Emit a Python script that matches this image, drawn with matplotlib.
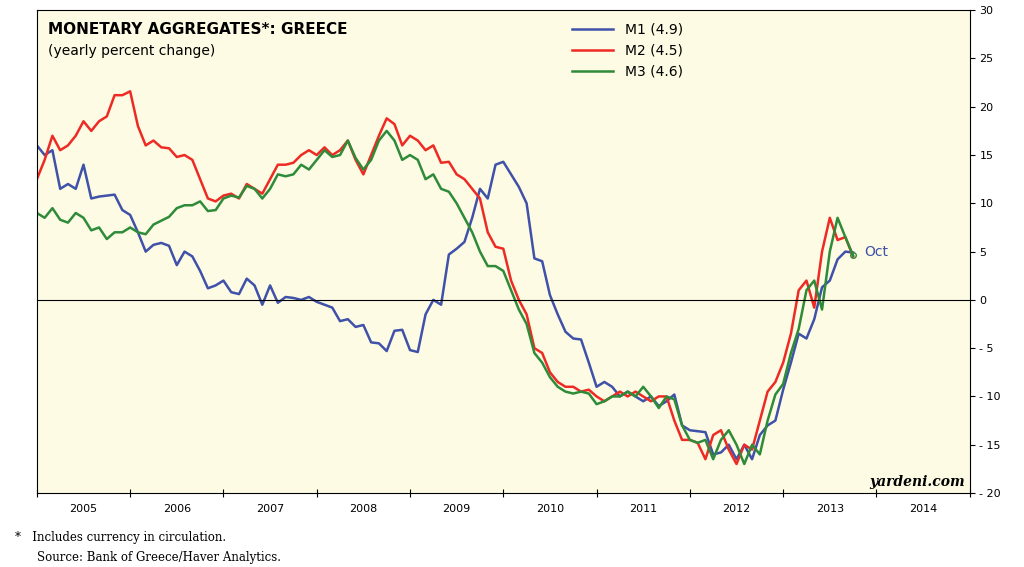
import matplotlib.pyplot as plt
import numpy as np

m1 = [16, 15, 15.5, 11.5, 12, 11.5, 14, 10.5, 10.7, 10.8, 10.9, 9.3,
      8.8, 7, 5, 5.7, 5.9, 5.6, 3.6, 5, 4.5, 3, 1.2, 1.5,
      2, 0.8, 0.6, 2.2, 1.5, -0.5, 1.5, -0.3, 0.3, 0.2, 0, 0.3,
      -0.2, -0.5, -0.8, -2.2, -2, -2.8, -2.6, -4.4, -4.5, -5.3, -3.2, -3.1,
      -5.2, -5.4, -1.5, 0, -0.5, 4.7, 5.3, 6, 8.5, 11.5, 10.5, 14,
      14.3, 13, 11.7, 10, 4.3, 4, 0.5, -1.5, -3.3, -4, -4.1, -6.5,
      -9, -8.5, -9, -10, -9.5, -10, -10.5, -10, -11, -10.5, -9.8, -13,
      -13.5, -13.6, -13.7, -16, -15.8, -15, -16.5, -15, -16.5, -14, -13, -12.5,
      -9.3, -6.5, -3.5, -4, -2, 1.3, 2, 4.2, 5, 4.9]
m2 = [12.5, 14.5, 17, 15.5, 16, 17, 18.5, 17.5, 18.5, 19, 21.2, 21.2,
      21.6, 18, 16, 16.5, 15.8, 15.7, 14.8, 15, 14.5, 12.5, 10.5, 10.2,
      10.8, 11, 10.5, 12, 11.5, 11, 12.5, 14, 14, 14.2, 15, 15.5,
      15, 15.8, 15, 15.5, 16.5, 14.5, 13, 15, 17, 18.8, 18.2, 16,
      17, 16.5, 15.5, 16, 14.2, 14.3, 13, 12.5, 11.5, 10.5, 7, 5.5,
      5.3, 2, 0, -1.5, -5, -5.5, -7.5, -8.5, -9, -9, -9.5, -9.3,
      -10, -10.5, -10, -9.5, -10, -9.5, -10, -10.5, -10, -10, -12.5, -14.5,
      -14.5, -14.8, -16.5, -14, -13.5, -15.5, -17, -15, -15.5, -12.5, -9.5, -8.5,
      -6.5, -3.5, 1, 2, -0.8, 5, 8.5, 6.2, 6.5, 4.5]
m3 = [9, 8.5, 9.5, 8.3, 8, 9, 8.5, 7.2, 7.5, 6.3, 7, 7,
      7.5, 7, 6.8, 7.8, 8.2, 8.6, 9.5, 9.8, 9.8, 10.2, 9.2, 9.3,
      10.5, 10.8, 10.6, 11.8, 11.5, 10.5, 11.5, 13, 12.8, 13, 14, 13.5,
      14.5, 15.5, 14.8, 15, 16.5, 14.7, 13.5, 14.5, 16.5, 17.5, 16.5, 14.5,
      15, 14.5, 12.5, 13, 11.5, 11.2, 10, 8.5, 7, 5, 3.5, 3.5,
      3, 1, -1, -2.5, -5.5, -6.5, -8, -9, -9.5, -9.7, -9.5, -9.7,
      -10.8, -10.5, -10, -10, -9.5, -10, -9, -10, -11.2, -10, -10.3, -13,
      -14.5, -14.8, -14.5, -16.5, -14.5, -13.5, -15, -17, -15, -16, -12.5, -9.8,
      -8.7, -5.5, -3, 1, 2, -1, 5, 8.5, 6.5, 4.6]
years = list(range(2005, 2015))

t = 2005 + np.arange(len(m1)) / 12.0

fig = plt.figure(figsize=(10.24, 5.67), dpi=100)
ax = fig.add_axes([0.036, 0.1305, 0.911, 0.8515])
ax.set_facecolor('#fdfbe3')
ax.plot(t, m1, color='#3f51a8', lw=1.8, label='M1 (4.9)')
ax.plot(t, m2, color='#ee2a24', lw=1.8, label='M2 (4.5)')
ax.plot(t, m3, color='#2e8b3a', lw=1.8, label='M3 (4.6)')
ax.axhline(0, color='black', lw=0.8)
ax.plot(t[-1], m3[-1], 'o', mfc='none', mec='#2e8b3a', ms=4)
ax.text(t[-1] + 0.12, 5, 'Oct', color='#3f51a8', fontsize=10, va='center')

ax.set_xlim(2005, 2015)
ax.set_ylim(-20, 30)
ax.yaxis.tick_right()
ax.set_yticks(range(-20, 31, 5))
ax.set_yticklabels([str(v) if v >= 0 else '- ' + str(-v) for v in range(-20, 31, 5)], fontsize=8)
ax.set_xticks(years + [2015])
ax.set_xticklabels([])
ax.set_xticks([y + 0.5 for y in years], minor=True)
ax.set_xticklabels([str(y) for y in years], minor=True, fontsize=8)
ax.tick_params(axis='x', which='minor', length=0, pad=8)
ax.tick_params(axis='x', which='major', length=6, direction='inout')

ax.text(0.012, 0.975, 'MONETARY AGGREGATES*: GREECE', transform=ax.transAxes,
        fontsize=11, fontweight='bold', va='top')
ax.text(0.012, 0.93, '(yearly percent change)', transform=ax.transAxes,
        fontsize=10, va='top')
ax.text(0.995, 0.015, 'yardeni.com', transform=ax.transAxes, ha='right',
        fontsize=10, fontweight='bold', style='italic', family='serif')
ax.legend(loc='upper left', bbox_to_anchor=(0.56, 1.0), frameon=False,
          fontsize=10, handlelength=3)

fig.text(0.015, 0.045, '*   Includes currency in circulation.', family='serif', fontsize=8.5)
fig.text(0.036, 0.01, 'Source: Bank of Greece/Haver Analytics.', family='serif', fontsize=8.5)

fig.savefig('out.png')
